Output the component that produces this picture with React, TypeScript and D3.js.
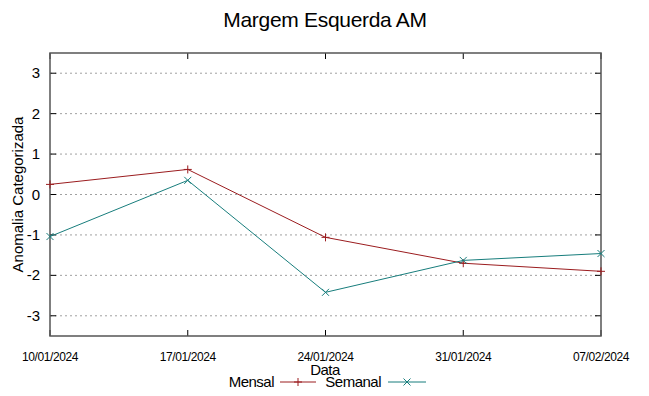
import React from "react";
import * as d3 from "d3";

const dates = ["10/01/2024", "17/01/2024", "24/01/2024", "31/01/2024", "07/02/2024"];
const mensal = [0.25, 0.62, -1.06, -1.7, -1.9];
const semanal = [-1.04, 0.35, -2.42, -1.63, -1.46];
const yTicks = [-3, -2, -1, 0, 1, 2, 3];

const W = 649;
const H = 396;
const margin = { top: 53, right: 48, bottom: 60, left: 50 };
const font = "'Liberation Sans', Arial, sans-serif";

export default function App() {
  const parse = d3.timeParse("%d/%m/%Y");
  const xs = dates.map((d) => parse(d) as Date);
  const x = d3
    .scaleTime()
    .domain([xs[0], xs[xs.length - 1]])
    .range([margin.left, W - margin.right]);
  const y = d3
    .scaleLinear()
    .domain([-3.5, 3.5])
    .range([H - margin.bottom, margin.top]);
  const x0 = margin.left;
  const x1 = W - margin.right;
  const y0 = y(-3.5);
  const y1 = y(3.5);

  const line = d3
    .line<number>()
    .x((_, i) => x(xs[i]))
    .y((v) => y(v));

  const plus = (cx: number, cy: number, c: string, k: string) => (
    <path key={k} d={`M${cx - 4},${cy}H${cx + 4}M${cx},${cy - 4}V${cy + 4}`} stroke={c} strokeWidth={1} />
  );
  const cross = (cx: number, cy: number, c: string, k: string) => (
    <path key={k} d={`M${cx - 3.5},${cy - 3.5}L${cx + 3.5},${cy + 3.5}M${cx - 3.5},${cy + 3.5}L${cx + 3.5},${cy - 3.5}`} stroke={c} strokeWidth={1} />
  );

  const red = "#9b1c1f";
  const teal = "#177d7c";

  return (
    <svg width={W} height={H} style={{ position: "absolute", left: 0, top: 0, background: "#fff" }} fontFamily={font}>
      <text x={325} y={27} textAnchor="middle" fontSize={21} letterSpacing={-0.3}>Margem Esquerda AM</text>
      {yTicks.map((t) => (
        <g key={t}>
          <line x1={x0} x2={x1} y1={y(t)} y2={y(t)} stroke="#a0a0a0" strokeWidth={1} strokeDasharray="2,3" />
          <line x1={x0} x2={x0 + 6} y1={y(t)} y2={y(t)} stroke="#000" />
          <line x1={x1 - 6} x2={x1} y1={y(t)} y2={y(t)} stroke="#000" />
          <text x={40} y={y(t) + 5} textAnchor="end" fontSize={15}>{t}</text>
        </g>
      ))}
      {xs.map((d, i) => (
        <g key={dates[i]}>
          <line x1={x(d)} x2={x(d)} y1={y0} y2={y0 - 6} stroke="#000" />
          <line x1={x(d)} x2={x(d)} y1={y1} y2={y1 + 6} stroke="#000" />
          <text x={x(d)} y={361} textAnchor="middle" fontSize={12} letterSpacing={-0.4}>{dates[i]}</text>
        </g>
      ))}
      <rect x={x0} y={y1} width={x1 - x0} height={y0 - y1} fill="none" stroke="#555" strokeWidth={1.5} />
      <path d={line(mensal) || ""} fill="none" stroke={red} strokeWidth={1} />
      <path d={line(semanal) || ""} fill="none" stroke={teal} strokeWidth={1} />
      {mensal.map((v, i) => plus(x(xs[i]), y(v), red, "m" + i))}
      {semanal.map((v, i) => cross(x(xs[i]), y(v), teal, "s" + i))}
      <text transform={`translate(23,${(y0 + y1) / 2}) rotate(-90)`} textAnchor="middle" fontSize={15}>Anomalia Categorizada</text>
      <text x={325} y={375} textAnchor="middle" fontSize={15} letterSpacing={-0.5}>Data</text>
      <text x={274} y={387} textAnchor="end" fontSize={15} letterSpacing={-0.5}>Mensal</text>
      <line x1={280} x2={316} y1={382} y2={382} stroke={red} />
      {plus(298, 382, red, "lm")}
      <text x={381} y={387} textAnchor="end" fontSize={15} letterSpacing={-0.5}>Semanal</text>
      <line x1={388} x2={426} y1={382} y2={382} stroke={teal} />
      {cross(407, 382, teal, "ls")}
    </svg>
  );
}
